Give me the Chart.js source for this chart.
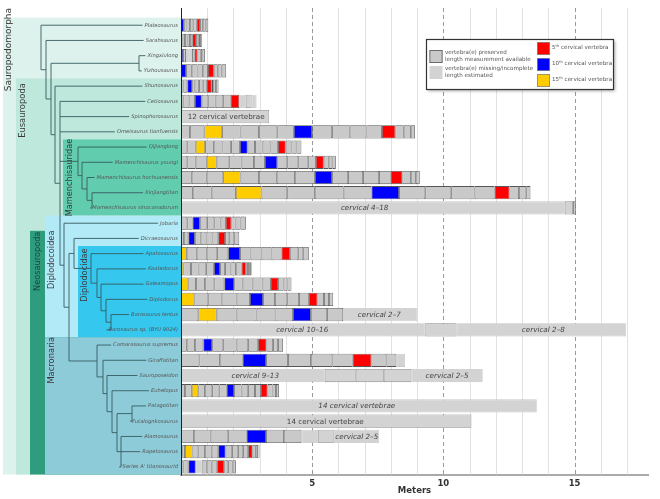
<!DOCTYPE html>
<html lang="en">
<head>
<meta charset="UTF-8">
<title>Sauropodomorph cervical series</title>
<style>
  body { margin: 0; background: #fff; }
  canvas { display: block; }
</style>
<script src="https://cdn.jsdelivr.net/npm/chart.js"></script>
</head>
<body>
<canvas id="neckChart" width="660" height="499"></canvas>
<script>
// taxa, top to bottom
const taxa = [
  'Plateosaurus', 'Sarahsaurus', 'Xingxiulong', 'Yizhousaurus', 'Shunosaurus',
  'Cetiosaurus', 'Spinophorosaurus', 'Omeisaurus tianfuensis', 'Qijianglong',
  'Mamenchisaurus youngi', 'Mamenchisaurus hochuanensis', 'Xinjiangtitan',
  'Mamenchisaurus sinocanadorum', 'Jobaria', 'Dicraeosaurus', 'Apatosaurus',
  'Kaatedocus', 'Galeamopus', 'Diplodocus', 'Barosaurus lentus',
  'Barosaurus sp. (BYU 9024)', 'Camarasaurus supremus', 'Giraffatitan',
  'Sauroposeidon', 'Euhelopus', 'Patagotitan', 'Futalognkosaurus',
  'Alamosaurus', 'Rapetosaurus', "'Series A' titanosaurid"
];

// length of each vertebra (m), posterior end first
const lengths = [
  [0.11, 0.10, 0.13, 0.13, 0.13, 0.13, 0.10, 0.11, 0.10],
  [0.06, 0.09, 0.10, 0.09, 0.09, 0.14, 0.09, 0.06, 0.07],
  [0.08, 0.11, 0.11, 0.12, 0.09, 0.12, 0.12, 0.07, 0.09],
  [0.19, 0.22, 0.22, 0.20, 0.20, 0.22, 0.15, 0.15, 0.17],
  [0.09, 0.15, 0.19, 0.09, 0.17, 0.16, 0.13, 0.19, 0.06, 0.10, 0.10],
  [0.09, 0.23, 0.21, 0.26, 0.25, 0.28, 0.29, 0.28, 0.33, 0.25, 0.22, 0.19],
  [3.36],
  [0.34, 0.55, 0.68, 0.70, 0.70, 0.70, 0.63, 0.70, 0.76, 0.67, 0.64, 0.59, 0.51, 0.32, 0.27, 0.16],
  [0.24, 0.32, 0.36, 0.33, 0.33, 0.33, 0.34, 0.29, 0.28, 0.29, 0.30, 0.29, 0.29, 0.22, 0.19, 0.19],
  [0.24, 0.32, 0.42, 0.38, 0.48, 0.47, 0.47, 0.42, 0.47, 0.38, 0.42, 0.38, 0.29, 0.30, 0.19, 0.14, 0.13],
  [0.41, 0.57, 0.63, 0.66, 0.70, 0.68, 0.69, 0.76, 0.66, 0.61, 0.57, 0.61, 0.44, 0.45, 0.32, 0.19, 0.15],
  [0.45, 0.72, 0.92, 0.98, 0.98, 1.05, 1.10, 1.06, 1.05, 1.00, 0.99, 0.89, 0.76, 0.57, 0.36, 0.28, 0.16],
  [14.63, 0.31, 0.12],
  [0.24, 0.20, 0.28, 0.28, 0.27, 0.24, 0.20, 0.21, 0.16, 0.19, 0.20],
  [0.11, 0.17, 0.25, 0.22, 0.22, 0.23, 0.22, 0.26, 0.16, 0.19, 0.19],
  [0.22, 0.38, 0.38, 0.40, 0.42, 0.45, 0.40, 0.42, 0.38, 0.38, 0.32, 0.32, 0.19, 0.21],
  [0.09, 0.29, 0.29, 0.29, 0.30, 0.23, 0.19, 0.21, 0.20, 0.22, 0.16, 0.08, 0.07, 0.07],
  [0.28, 0.29, 0.34, 0.36, 0.38, 0.38, 0.32, 0.38, 0.38, 0.32, 0.27, 0.21, 0.15, 0.15],
  [0.51, 0.53, 0.51, 0.57, 0.51, 0.50, 0.45, 0.47, 0.45, 0.37, 0.33, 0.25, 0.19, 0.16],
  [0.66, 0.70, 0.76, 0.76, 0.72, 0.67, 0.68, 0.62, 0.61, 2.83],
  [9.29, 1.21, 6.47],
  [0.22, 0.31, 0.32, 0.34, 0.42, 0.51, 0.44, 0.38, 0.32, 0.25, 0.19, 0.19],
  [0.70, 0.78, 0.87, 0.89, 0.84, 0.87, 0.82, 0.77, 0.72, 0.57, 0.38, 0.33],
  [5.48, 1.18, 1.07, 1.05, 2.72],
  [0.15, 0.26, 0.25, 0.25, 0.28, 0.27, 0.28, 0.28, 0.29, 0.25, 0.26, 0.23, 0.25, 0.19, 0.13, 0.11],
  [13.56],
  [11.07],
  [0.49, 0.64, 0.67, 0.70, 0.74, 0.68, 0.67, 0.64, 0.59, 1.73],
  [0.05, 0.10, 0.29, 0.22, 0.25, 0.26, 0.25, 0.28, 0.25, 0.23, 0.19, 0.19, 0.17, 0.12, 0.08, 0.08],
  [0.09, 0.19, 0.28, 0.23, 0.19, 0.19, 0.21, 0.27, 0.15, 0.17, 0.12]
];

// p preserved, m missing, o missing but outlined, r 5th, b 10th, y 15th
const kinds = [
  'bpppprppp', 'bpppprppp', 'bpmmprppp', 'bpppprppp', 'ppbpppprppp',
  'pppbpppprmom', 'o', 'ppyppppbpppprppp', 'ppyppppbpppprppp',
  'pppyppppbpppprppp', 'pppyppppbpppprppp', 'pppyppppbpppprppp',
  'mop', 'ppbpppprppp', 'ppbpppprppp', 'yppppbpppprppp', 'yppppbpppprppp',
  'yppppbpppprppp', 'yppppbpppprppp', 'pyppppbppm', 'mom',
  'pppbpppprppp', 'pppbpppprppm', 'mooom', 'ppyppppbpppprppp',
  'm', 'o', 'ppppbppmom', 'ppyppppbpppprppm', 'ppbmppprppp'
];

// text written on the bars: row, centre (m), text, italic
const noteRows = [6, 12, 19, 20, 20, 23, 23, 25, 26, 27];
const noteAt = [1.72, 7.0, 7.56, 4.62, 13.81, 2.83, 10.14, 6.7, 5.5, 6.7];
const noteText = ['12 cervical vertebrae', 'cervical 4\u201318', 'cervical 2\u20137',
  'cervical 10\u201316', 'cervical 2\u20138', 'cervical 9\u201313', 'cervical 2\u20135',
  '14 cervical vertebrae', '14 cervical vertebrae', 'cervical 2\u20135'];
const noteItalic = [false, true, true, true, true, true, true, true, false, true];

// cladogram: [node x, children...], leaves are row numbers
const tree = [41, 0, [46, 1, [51, [139, 2, 3], [55, 4, [60, 5, 6, 7,
  [78, 8, [82, 9, [87, 10, [92, 11, 12]]]],
  [64, 13, [69,
    [74, 14, [91, 15, [97, 16, [101, 17, [106, 18, [111, 19, 20]]]]]],
    [97, 21, [103, 22, [107, 23, [112, 24, [117, [132, 25, 26], [121, 27, 28, 29]]]]]]
  ]]
]]]]];

// clade boxes: first row, last row, left edge px, colour, label x, label row, label size
const cladeNames = ['Sauropodomorpha', 'Eusauropoda', 'Mamenchisauridae', 'Neosauropoda',
  'Diplodocoidea', 'Diplodocidae', 'Macronaria'];
const cladeFrom = [0, 4, 8, 14, 13, 15, 21];
const cladeTo = [29, 29, 12, 29, 20, 20, 29];
const cladeLeft = [3, 16, 63, 30, 45, 78, 45];
const cladeColor = ['#ddf2ec', '#bde8db', '#62cdae', '#2f9c7d', '#b3eaf7', '#35c7ee', '#8ecbd9'];
const cladeLabelX = [9, 23, 70, 38, 52, 85, 52];
const cladeLabelRow = [1.6, 5.6, 10.0, 15.5, 15.4, 16.4, 22.0];
const cladeLabelSize = [9, 8.4, 8.2, 8.2, 8.2, 8.2, 8.4];

const fills = { p: '#c9c9c9', m: '#d3d3d3', o: '#d3d3d3', r: '#ff0000', b: '#0000ff', y: '#ffcc00' };
const edges = { p: '#555555', m: '#c6c6c6', o: '#8a8a8a', r: '#555555', b: '#555555', y: '#555555' };

const FONT = '"DejaVu Sans", Verdana, sans-serif';
const TAXON_SIZE = 5.2;
const gridTop = 8;

const maxSegs = Math.max(...lengths.map(l => l.length));
const datasets = [];
for (let k = 0; k < maxSegs; k++) {
  datasets.push({
    data: lengths.map(l => (k < l.length ? l[k] : null)),
    backgroundColor: kinds.map(s => fills[s[k]] || 'transparent'),
    borderColor: kinds.map(s => edges[s[k]] || 'transparent'),
    borderWidth: 0.8,
    borderSkipped: false,
    barPercentage: 0.87,
    categoryPercentage: 1
  });
}

const decorations = {
  id: 'decorations',
  beforeDraw(chart) {
    const { ctx, chartArea: a, scales: { y } } = chart;
    const y0 = y.getPixelForValue(0);
    const step = y.getPixelForValue(1) - y0;
    const rowY = r => y0 + r * step;
    ctx.save();
    // clade boxes
    cladeNames.forEach((n, i) => {
      const top = rowY(cladeFrom[i]) - step / 2;
      const bot = rowY(cladeTo[i]) + step / 2;
      ctx.fillStyle = cladeColor[i];
      ctx.fillRect(cladeLeft[i], top, a.left - cladeLeft[i], bot - top);
    });
    // clade names
    ctx.textAlign = 'center';
    ctx.textBaseline = 'middle';
    cladeNames.forEach((n, i) => {
      ctx.save();
      ctx.font = cladeLabelSize[i] + 'px ' + FONT;
      ctx.translate(cladeLabelX[i], rowY(cladeLabelRow[i]));
      ctx.rotate(-Math.PI / 2);
      ctx.fillStyle = n === 'Neosauropoda' ? '#17493c' : '#3a3a3a';
      ctx.fillText(n, 0, 0);
      ctx.restore();
    });
    // cladogram
    ctx.font = 'italic ' + TAXON_SIZE + 'px ' + FONT;
    const tipEnd = i => a.left - 3 - ctx.measureText(taxa[i]).width - 2;
    const nodeY = n => (typeof n === 'number' ? rowY(n) : (nodeY(n[1]) + nodeY(n[n.length - 1])) / 2);
    ctx.strokeStyle = '#365c60';
    ctx.lineWidth = 0.9;
    ctx.beginPath();
    const drawNode = n => {
      const nx = n[0];
      const kids = n.slice(1);
      const ys = kids.map(nodeY);
      ctx.moveTo(nx, ys[0]);
      ctx.lineTo(nx, ys[ys.length - 1]);
      kids.forEach((kid, i) => {
        const leaf = typeof kid === 'number';
        ctx.moveTo(nx, ys[i]);
        ctx.lineTo(leaf ? tipEnd(kid) : kid[0], ys[i]);
        if (!leaf) drawNode(kid);
      });
    };
    drawNode(tree);
    ctx.stroke();
    ctx.restore();
  },
  beforeDatasetsDraw(chart) {
    const { ctx, chartArea: a, scales: { x } } = chart;
    ctx.save();
    ctx.lineWidth = 1;
    for (let m = 1; m <= 17; m++) {
      const px = Math.round(x.getPixelForValue(m)) + 0.5;
      ctx.beginPath();
      if (m % 5 === 0) {
        ctx.setLineDash([4, 3]);
        ctx.strokeStyle = '#9a9a9a';
      } else {
        ctx.setLineDash([]);
        ctx.strokeStyle = '#e2e2e2';
      }
      ctx.moveTo(px, gridTop);
      ctx.lineTo(px, a.bottom);
      ctx.stroke();
    }
    ctx.restore();
  },
  afterDatasetsDraw(chart) {
    const { ctx, chartArea: a, scales: { x, y } } = chart;
    ctx.save();
    // notes on bars
    ctx.fillStyle = '#444';
    ctx.textAlign = 'center';
    ctx.textBaseline = 'middle';
    noteRows.forEach((r, i) => {
      ctx.font = (noteItalic[i] ? 'italic ' : '') + '7.2px ' + FONT;
      ctx.fillText(noteText[i], x.getPixelForValue(noteAt[i]), y.getPixelForValue(r) + 0.5);
    });
    // y axis line
    ctx.strokeStyle = '#222';
    ctx.lineWidth = 1;
    ctx.beginPath();
    ctx.moveTo(a.left + 0.5, gridTop);
    ctx.lineTo(a.left + 0.5, a.bottom + 1);
    ctx.stroke();
    ctx.restore();
  },
  afterDraw(chart) {
    const { ctx } = chart;
    const L = 426.5, T = 39.5, W = 187, H = 50;
    ctx.save();
    ctx.shadowColor = 'rgba(0,0,0,0.35)';
    ctx.shadowBlur = 3;
    ctx.shadowOffsetX = 1.5;
    ctx.shadowOffsetY = 1.5;
    ctx.fillStyle = '#fff';
    ctx.fillRect(L, T, W, H);
    ctx.shadowColor = 'transparent';
    ctx.strokeStyle = '#333';
    ctx.lineWidth = 1.2;
    ctx.strokeRect(L, T, W, H);

    const swatch = (sx, sy, fill, edge) => {
      ctx.fillStyle = fill;
      ctx.fillRect(sx, sy, 13, 13);
      if (edge) {
        ctx.strokeStyle = edge;
        ctx.lineWidth = 0.8;
        ctx.strokeRect(sx + 0.4, sy + 0.4, 12.2, 12.2);
      }
    };
    swatch(429.5, 50, fills.p, '#555');
    swatch(429.5, 66, fills.m, null);
    swatch(537, 42, fills.r, '#888');
    swatch(537, 58, fills.b, '#888');
    swatch(537, 74, fills.y, '#888');

    ctx.fillStyle = '#555';
    ctx.textBaseline = 'middle';
    ctx.textAlign = 'left';
    ctx.font = '5.6px ' + FONT;
    ctx.fillText('vertebra(e) preserved', 445, 53);
    ctx.fillText('length measurement available', 445, 60);
    ctx.fillText('vertebra(e) missing/incomplete', 445, 69);
    ctx.fillText('length estimated', 445, 76);
    [['5', 48], ['10', 64], ['15', 80]].forEach(([n, ty]) => {
      ctx.font = '5.6px ' + FONT;
      let tx = 552;
      ctx.fillText(n, tx, ty);
      tx += ctx.measureText(n).width;
      ctx.font = '3.6px ' + FONT;
      ctx.fillText('th', tx, ty - 2);
      tx += ctx.measureText('th').width;
      ctx.font = '5.6px ' + FONT;
      ctx.fillText(' cervical vertebra', tx, ty);
    });
    ctx.restore();
  }
};

new Chart(document.getElementById('neckChart'), {
  type: 'bar',
  data: { labels: taxa, datasets: datasets },
  options: {
    indexAxis: 'y',
    responsive: false,
    animation: false,
    layout: { padding: { top: 17.6, right: 12, left: 0, bottom: 0 } },
    plugins: { legend: { display: false }, tooltip: { enabled: false } },
    scales: {
      x: {
        type: 'linear',
        stacked: true,
        min: 0,
        max: 17.8,
        grid: { display: false, drawTicks: false },
        border: { display: true, color: '#aaaaaa', width: 2 },
        ticks: {
          stepSize: 1,
          autoSkip: false,
          maxRotation: 0,
          padding: 4,
          color: '#333',
          font: { family: FONT, size: 8.5, weight: 'bold' },
          callback: v => (v > 0 && v % 5 === 0 ? v : '')
        },
        title: {
          display: true,
          text: 'Meters',
          color: '#333',
          font: { family: FONT, size: 8.5, weight: 'bold' },
          padding: { top: 0, bottom: 3 }
        },
        afterFit: s => { s.height = 24.5; }
      },
      y: {
        type: 'category',
        stacked: true,
        grid: { display: false, drawTicks: false },
        border: { display: false },
        ticks: {
          autoSkip: false,
          padding: 3,
          color: '#555',
          font: { family: FONT, size: TAXON_SIZE, style: 'italic' }
        },
        afterFit: s => { s.width = 181; }
      }
    }
  },
  plugins: [decorations]
});
</script>
</body>
</html>
